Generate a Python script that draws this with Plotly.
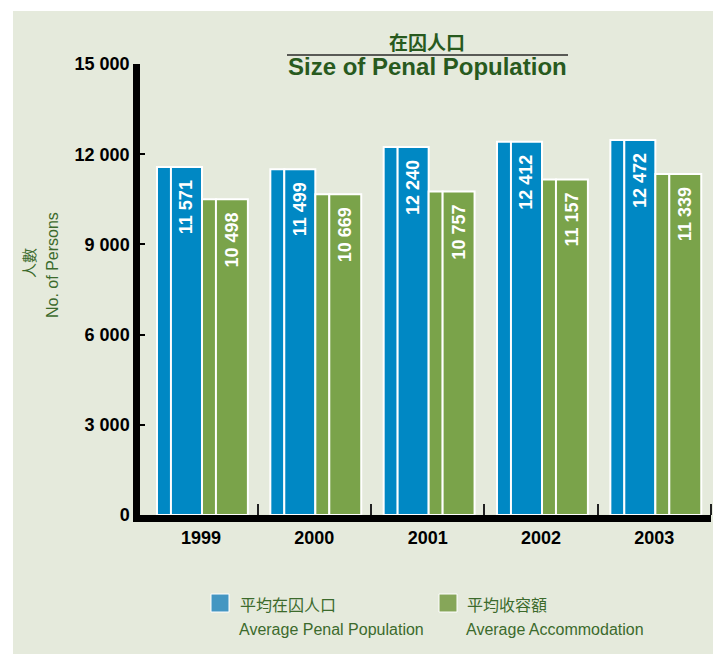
import plotly.graph_objects as go

# ---- data ----
years = [1999, 2000, 2001, 2002, 2003]
penal_population = [11571, 11499, 12240, 12412, 12472]
accommodation = [10498, 10669, 10757, 11157, 11339]
y_tick_values = [0, 3000, 6000, 9000, 12000, 15000]
title_zh = "在囚人口"
title_en = "Size of Penal Population"
ytitle_zh = "人數"
ytitle_en = "No. of Persons"
legend_zh = ["平均在囚人口", "平均收容額"]
legend_en = ["Average Penal Population", "Average Accommodation"]


def fmt(v):
    return f"{v:,}".replace(",", " ")


BLUE = "#0088c4"
GREEN = "#7aa34a"
BG = "#e5eadc"
TITLE_GREEN = "#285a1e"
TEXT_GREEN = "#3c6a2c"
LAT = "Liberation Sans, Arial, sans-serif"
CJK = "Noto Sans CJK TC, Noto Sans CJK SC, sans-serif"

W, H = 713, 654
L, R, T, B = 140, 713 - 711, 64, 654 - 515
PW = W - L - R
PH = H - T - B


def px(x):
    return (x - L) / PW


def py(y):
    return (H - B - y) / PH


fig = go.Figure()
outline = dict(color="white", width=2)
pad = "\u00a0\u00a0"

# blue side face + front face
fig.add_bar(x=years, y=penal_population, width=0.124, offset=-0.388,
            marker=dict(color=BLUE, line=outline), hoverinfo="skip")
fig.add_bar(x=years, y=penal_population, width=0.274, offset=-0.265,
            marker=dict(color=BLUE, line=outline),
            text=[fmt(v) + pad for v in penal_population], textposition="inside",
            insidetextanchor="end", textangle=-90,
            textfont=dict(color="white", size=18, family=LAT, weight="bold"))
# green side face + front face
fig.add_bar(x=years, y=accommodation, width=0.124, offset=0.009,
            marker=dict(color=GREEN, line=outline), hoverinfo="skip")
fig.add_bar(x=years, y=accommodation, width=0.282, offset=0.132,
            marker=dict(color=GREEN, line=outline),
            text=[fmt(v) + pad for v in accommodation], textposition="inside",
            insidetextanchor="end", textangle=-90,
            textfont=dict(color="white", size=18, family=LAT, weight="bold"))

x0 = 1998.5 - 4.3 / 113.34

fig.update_layout(
    width=W, height=H,
    margin=dict(l=L, r=R, t=T, b=B, pad=0),
    paper_bgcolor="white",
    plot_bgcolor="rgba(0,0,0,0)",
    barmode="overlay",
    showlegend=False,
    xaxis=dict(
        range=[x0, 2003.5], tickmode="array", tickvals=years,
        ticktext=[str(y) for y in years], ticks="",
        showline=True, linewidth=7, linecolor="black",
        showgrid=False, zeroline=False,
        tickfont=dict(size=18, color="black", family=LAT, weight="bold"),
        minor=dict(tickmode="array", tickvals=[y + 0.5 for y in years],
                   ticks="inside", ticklen=11, tickwidth=1.5,
                   tickcolor="#222", showgrid=False),
    ),
    yaxis=dict(
        range=[0, 15000], tickmode="array", tickvals=y_tick_values,
        ticktext=[fmt(v) for v in y_tick_values],
        ticks="inside", ticklen=5, tickwidth=1.5, tickcolor="black",
        showline=True, linewidth=6.5, linecolor="black",
        showgrid=False, zeroline=False,
        tickfont=dict(size=18, color="black", family=LAT, weight="bold"),
    ),
)

shapes = [
    dict(type="rect", xref="paper", yref="paper",
         x0=px(13), x1=px(730), y0=py(670), y1=py(11),
         fillcolor=BG, line=dict(width=0), layer="below"),
    dict(type="line", xref="paper", yref="paper",
         x0=px(287), x1=px(568), y0=py(55), y1=py(55),
         line=dict(color="#2a2a2a", width=1.5)),
    dict(type="rect", xref="paper", yref="paper",
         x0=px(211), x1=px(229), y0=py(612), y1=py(594),
         fillcolor="#4496c2", line=dict(color="white", width=1)),
    dict(type="rect", xref="paper", yref="paper",
         x0=px(439), x1=px(457), y0=py(612), y1=py(594),
         fillcolor="#86a659", line=dict(color="white", width=1)),
]
fig.update_layout(shapes=shapes)

ann = []


def add_text(text, x, y, size, color, family, xanchor="center", weight="normal", angle=0):
    ann.append(dict(text=text, x=px(x), y=py(y), xref="paper", yref="paper",
                    xanchor=xanchor, yanchor="middle", showarrow=False,
                    textangle=angle,
                    font=dict(size=size, color=color, family=family, weight=weight)))


add_text(title_zh, 427, 42, 19, TITLE_GREEN, CJK, weight="bold")
add_text(title_en, 427, 67, 24, TITLE_GREEN, LAT, weight="bold")
add_text(ytitle_zh, 28, 263, 15, TEXT_GREEN, CJK, angle=-90)
add_text(ytitle_en, 52, 265, 16, TEXT_GREEN, LAT, angle=-90)
add_text(legend_zh[0], 238, 604, 16, TEXT_GREEN, CJK, xanchor="left")
add_text(legend_en[0], 237, 629, 16, TEXT_GREEN, LAT, xanchor="left")
add_text(legend_zh[1], 465, 604, 16, TEXT_GREEN, CJK, xanchor="left")
add_text(legend_en[1], 464, 629, 16, TEXT_GREEN, LAT, xanchor="left")
fig.update_layout(annotations=ann)

fig.write_html(
    "out.html",
    config={"displayModeBar": False},
    post_script="document.body.style.margin='0';document.body.style.overflow='hidden';",
)
